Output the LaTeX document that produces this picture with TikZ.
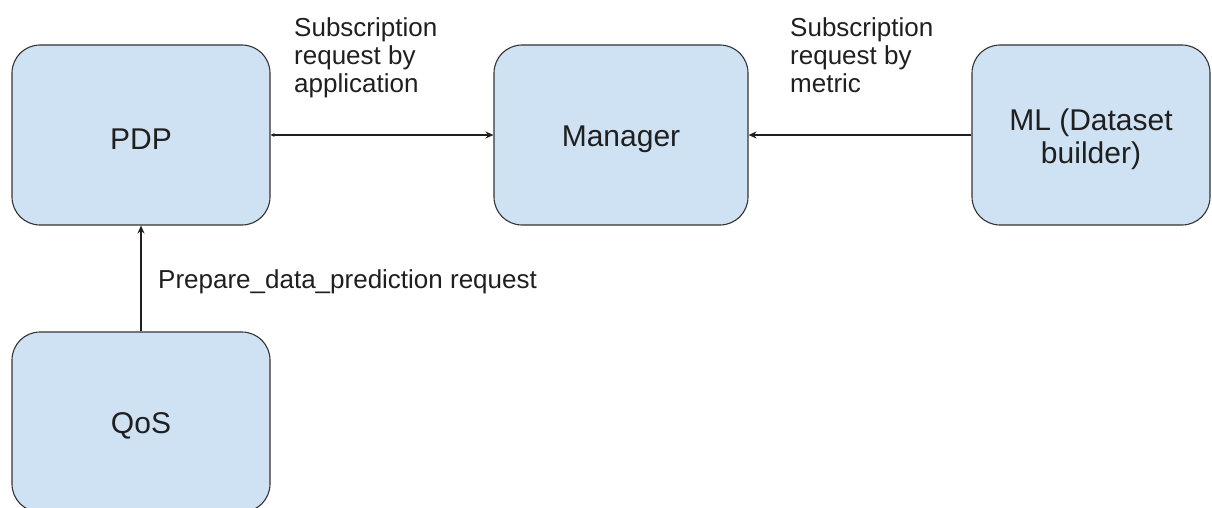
\documentclass[tikz,border=0pt]{standalone}
\usepackage{fontspec}
\setmainfont{Liberation Sans}
\usetikzlibrary{arrows.meta}
\definecolor{boxfill}{HTML}{CFE2F3}
\definecolor{boxline}{HTML}{333333}
\definecolor{ink}{HTML}{1F1F1F}
\tikzset{
  block/.style={draw=boxline, fill=boxfill, line width=1.1pt, rounded corners=28pt,
    minimum height=180pt, inner sep=0pt},
  blocktext/.style={inner sep=0pt, align=center, text=ink,
    font=\fontsize{30}{33}\selectfont},
  link/.style={draw=ink, line width=1.1pt},
  bigtip/.tip={Stealth[length=8pt,width=7pt]},
  smalltip/.tip={Stealth[length=4pt,width=4pt]},
  edgetext/.style={inner sep=0pt, align=left, text=ink,
    font=\fontsize{26}{28}\selectfont}
}
\begin{document}
\begin{tikzpicture}[x=1pt,y=1pt]
  \useasboundingbox (0,0) rectangle (1212,507);
  \clip (0,0) rectangle (1212,507);
  % components
  \node[block, minimum width=258pt] (pdp) at (141,372) {};
  \node[block, minimum width=254pt] (man) at (621,372) {};
  \node[block, minimum width=238pt] (ml)  at (1091,372) {};
  \node[block, minimum width=258pt] (qos) at (141,85) {};
  \node[blocktext] (pdpt) at ([yshift=-4pt]pdp.center) {PDP};
  \node[blocktext] (mant) at ([yshift=-4pt]man.center) {Manager};
  \node[blocktext] (mlt)  at ([yshift=-4pt]ml.center) {ML (Dataset\\builder)};
  \node[blocktext] (qost) at ([yshift=-4pt]qos.center) {QoS};
  % requests
  \draw[link, {smalltip}-{bigtip}] (pdp.east) -- (man.west);
  \draw[link, -{bigtip}] (ml.west) -- (man.east);
  \draw[link, -{bigtip}] (qos.north) -- (pdp.south);
  % request labels
  \node[edgetext, anchor=base west] (lapp) at (294,414)
    {Subscription\\request by\\application};
  \node[edgetext, anchor=base west] (lmet) at (790,414)
    {Subscription\\request by\\metric};
  \node[edgetext, anchor=base west] (lpred) at (158,219)
    {Prepare\_data\_prediction request};
\end{tikzpicture}
\end{document}
